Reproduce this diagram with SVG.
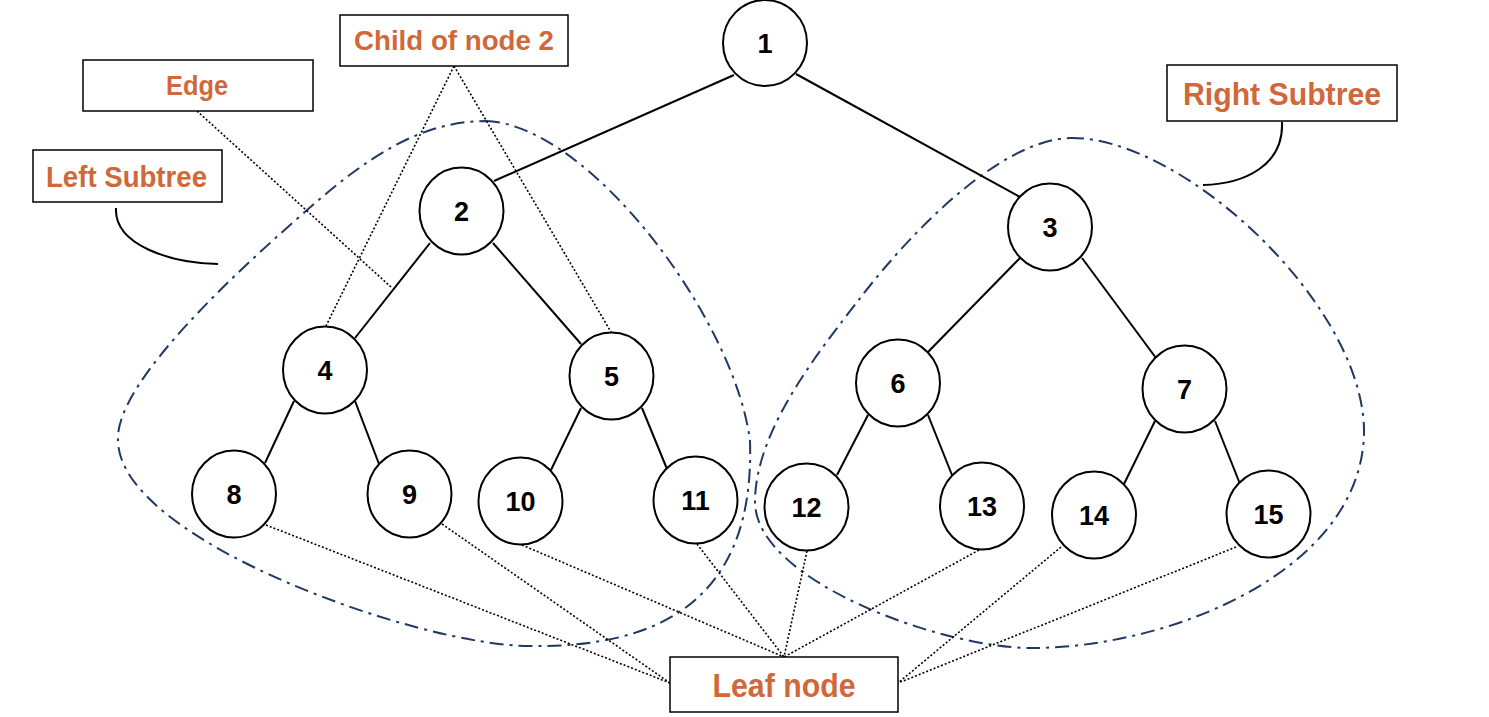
<svg xmlns="http://www.w3.org/2000/svg" width="1489" height="717" viewBox="0 0 1489 717">
<style>
.edge{stroke:#000;stroke-width:2;fill:none}
.dot{stroke:#000;stroke-width:1.6;stroke-dasharray:2,2;fill:none}
.blob{stroke:#1F3864;stroke-width:2;stroke-dasharray:14,6,3,6;fill:none}
.callout{stroke:#000;stroke-width:2;fill:none}
.node ellipse{fill:#fff;stroke:#000;stroke-width:2}
.node text{font-family:"Liberation Sans",Arial,sans-serif;font-weight:bold;font-size:27px;fill:#000;text-anchor:middle}
.label rect{fill:#fff;stroke:#000;stroke-width:1.5}
.label text{font-family:"Liberation Sans",Arial,sans-serif;font-weight:bold;fill:#D0683A;text-anchor:middle}
</style>
<rect width="1489" height="717" fill="#fff"/>
<g id="subtrees">
<path class="blob" d="M486,121 C590,125 735,320 750,441 C755,600 660,648 529,646 C420,646 118,540 118,440 C115,380 250,260 306,211 C366,158 420,121 486,121 Z"/>
<path class="blob" d="M1070,138 C1180,136 1360,300 1364,428 C1366,570 1170,648 1032,648 C940,648 755,580 755,502 C755,430 820,350 861,297 C911,232 1000,140 1070,138 Z"/>
</g>
<g id="connectors">
<line class="edge" x1="734" y1="75" x2="494" y2="181"/>
<line class="edge" x1="796" y1="74" x2="1020" y2="197"/>
<line class="edge" x1="430" y1="243" x2="355" y2="338"/>
<line class="edge" x1="493" y1="243" x2="581" y2="344"/>
<line class="edge" x1="294" y1="401" x2="265" y2="463"/>
<line class="edge" x1="355" y1="401" x2="379" y2="464"/>
<line class="edge" x1="581" y1="408" x2="551" y2="470"/>
<line class="edge" x1="642" y1="408" x2="667" y2="469"/>
<line class="edge" x1="1020" y1="258" x2="928" y2="352"/>
<line class="edge" x1="1082" y1="258" x2="1156" y2="358"/>
<line class="edge" x1="868" y1="415" x2="837" y2="475"/>
<line class="edge" x1="928" y1="415" x2="952" y2="475"/>
<line class="edge" x1="1155" y1="421" x2="1124" y2="484"/>
<line class="edge" x1="1215" y1="421" x2="1240" y2="484"/>
<line class="dot" x1="197" y1="111" x2="391" y2="287"/>
<line class="dot" x1="454" y1="66" x2="326" y2="326"/>
<line class="dot" x1="454" y1="66" x2="611" y2="332"/>
<line class="dot" x1="266" y1="525" x2="670" y2="683"/>
<line class="dot" x1="442" y1="524" x2="670" y2="683"/>
<line class="dot" x1="522" y1="545" x2="784" y2="657"/>
<line class="dot" x1="697" y1="544" x2="784" y2="657"/>
<line class="dot" x1="807" y1="551" x2="784" y2="657"/>
<line class="dot" x1="979" y1="550" x2="784" y2="657"/>
<line class="dot" x1="1061" y1="547" x2="898" y2="683"/>
<line class="dot" x1="1236" y1="547" x2="898" y2="683"/>
<path class="callout" d="M116,208 C114,245 170,263 218,264"/>
<path class="callout" d="M1282,122 C1284,165 1245,184 1203,185"/>
</g>
<g id="node1" class="node"><ellipse cx="765" cy="43" rx="42" ry="43"/><text x="765" y="53">1</text></g>
<g id="node2" class="node"><ellipse cx="461.5" cy="211" rx="42" ry="43.5"/><text x="461.5" y="221">2</text></g>
<g id="node3" class="node"><ellipse cx="1050" cy="227" rx="42" ry="43.5"/><text x="1050" y="237">3</text></g>
<g id="node4" class="node"><ellipse cx="325" cy="370" rx="42" ry="43.5"/><text x="325" y="380">4</text></g>
<g id="node5" class="node"><ellipse cx="611.5" cy="376" rx="42" ry="43.5"/><text x="611.5" y="386">5</text></g>
<g id="node6" class="node"><ellipse cx="898" cy="383" rx="42" ry="43.5"/><text x="898" y="393">6</text></g>
<g id="node7" class="node"><ellipse cx="1184.5" cy="389" rx="42" ry="43.5"/><text x="1184.5" y="399">7</text></g>
<g id="node8" class="node"><ellipse cx="234" cy="494" rx="42" ry="43.5"/><text x="234" y="504">8</text></g>
<g id="node9" class="node"><ellipse cx="409.5" cy="494" rx="42" ry="43.5"/><text x="409.5" y="504">9</text></g>
<g id="node10" class="node"><ellipse cx="520.5" cy="501" rx="42" ry="43.5"/><text x="520.5" y="511">10</text></g>
<g id="node11" class="node"><ellipse cx="695.5" cy="500" rx="42" ry="43.5"/><text x="695.5" y="510">11</text></g>
<g id="node12" class="node"><ellipse cx="806.5" cy="507" rx="42" ry="43.5"/><text x="806.5" y="517">12</text></g>
<g id="node13" class="node"><ellipse cx="982" cy="506" rx="42" ry="43.5"/><text x="982" y="516">13</text></g>
<g id="node14" class="node"><ellipse cx="1094" cy="515" rx="42" ry="43.5"/><text x="1094" y="525">14</text></g>
<g id="node15" class="node"><ellipse cx="1268.5" cy="514" rx="42" ry="43.5"/><text x="1268.5" y="524">15</text></g>
<g id="label-child" class="label"><rect x="340" y="15" width="228" height="51"/><text x="454" y="50" font-size="28" textLength="200" lengthAdjust="spacingAndGlyphs">Child of node 2</text></g>
<g id="label-edge" class="label"><rect x="83" y="60" width="230" height="51"/><text x="197" y="95" font-size="28" textLength="62" lengthAdjust="spacingAndGlyphs">Edge</text></g>
<g id="label-left" class="label"><rect x="33" y="150" width="189" height="52"/><text x="126.5" y="187" font-size="29" textLength="161" lengthAdjust="spacingAndGlyphs">Left Subtree</text></g>
<g id="label-right" class="label"><rect x="1167" y="65" width="230" height="56"/><text x="1282" y="105" font-size="31" textLength="198" lengthAdjust="spacingAndGlyphs">Right Subtree</text></g>
<g id="label-leaf" class="label"><rect x="670" y="657" width="228" height="55"/><text x="784" y="697" font-size="33" textLength="143" lengthAdjust="spacingAndGlyphs">Leaf node</text></g>
</svg>
